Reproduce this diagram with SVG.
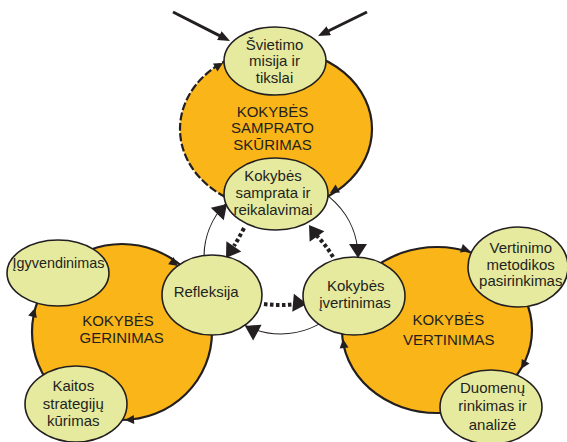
<svg xmlns="http://www.w3.org/2000/svg" xmlns:xlink="http://www.w3.org/1999/xlink" width="567" height="442" viewBox="0 0 567 442">
<style>
.big{fill:#FAB518;}
.bs{fill:none;stroke:#231F20;stroke-width:2.2;}
.el{fill:#E6EA9E;stroke:#231F20;stroke-width:1.6;}
.t{font-family:'Liberation Sans',Arial,sans-serif;font-size:15px;fill:#231F20;text-anchor:middle;}
.thin{fill:none;stroke:#231F20;stroke-width:1.1;}
.dot{fill:none;stroke:#231F20;stroke-width:4;stroke-dasharray:3.5 2.5;}
.ah{fill:#231F20;}
</style>
<defs>
<polygon id="sa" points="0,0 -9,-4.5 -9,4.5"/>
<polygon id="ba" points="0,0 -14,-9 -14,9"/>
<marker id="lm" viewBox="0 0 12 10" refX="4" refY="5" markerWidth="12" markerHeight="10" markerUnits="userSpaceOnUse" orient="auto">
<path d="M0,0 L12,5 L0,10 z" fill="#231F20"/>
</marker>
</defs>

<g id="kokybes-samprato-kurimas">
<ellipse class="big" cx="276" cy="129" rx="96" ry="80"/>
<path class="bs" d="M276,49 A96,80 0 0 1 276,209"/>
<path class="bs" stroke-dasharray="8 2.5" d="M276,209 A96,80 0 0 1 276,49"/>
<text class="t" x="272.5" y="116.5">KOKYBĖS</text>
<text class="t" x="272.5" y="133.2">SAMPRATO</text>
<text class="t" x="272.5" y="150">SKŪRIMAS</text>
</g>
<g id="kokybes-gerinimas">
<ellipse class="big" cx="122" cy="332" rx="90" ry="88"/>
<ellipse class="bs" cx="122" cy="332" rx="90" ry="88"/>
<text class="t" x="118" y="325.5">KOKYBĖS</text>
<text class="t" x="121.7" y="343">GERINIMAS</text>
</g>
<g id="kokybes-vertinimas">
<ellipse class="big" cx="437" cy="330" rx="95" ry="83"/>
<ellipse class="bs" cx="437" cy="330" rx="95" ry="83"/>
<text class="t" x="448.3" y="324.5">KOKYBĖS</text>
<text class="t" x="448.8" y="344.5">VERTINIMAS</text>
</g>

<g id="connectors">
<line x1="173" y1="12" x2="222.9" y2="37.4" stroke="#231F20" stroke-width="3" marker-end="url(#lm)"/>
<line x1="367" y1="12" x2="325.2" y2="32.5" stroke="#231F20" stroke-width="3" marker-end="url(#lm)"/>
<circle class="thin" cx="281" cy="257" r="77"/>
<use href="#ba" class="ah" transform="translate(227,204) rotate(-46)"/>
<use href="#ba" class="ah" transform="translate(358,258) rotate(90)"/>
<use href="#ba" class="ah" transform="translate(245,326) rotate(208)"/>
<path class="dot" d="M244,228 Q239,238 234,246"/>
<use href="#ba" class="ah" transform="translate(226,258) rotate(124)"/>
<path class="dot" d="M264,304 Q280,306 296,304"/>
<use href="#ba" class="ah" transform="translate(307,304) rotate(5)"/>
<path class="dot" d="M333,257 Q326,245 317,236"/>
<use href="#ba" class="ah" transform="translate(309,225) rotate(-125)"/>
<use href="#sa" class="ah" transform="translate(223,63) rotate(-30)"/>
<use href="#sa" class="ah" transform="translate(330,193) rotate(150)"/>
<use href="#sa" class="ah" transform="translate(178,266) rotate(37)"/>
<use href="#sa" class="ah" transform="translate(35,308) rotate(-74)"/>
<use href="#sa" class="ah" transform="translate(125,420) rotate(177)"/>
<use href="#sa" class="ah" transform="translate(470,251) rotate(18)"/>
<use href="#sa" class="ah" transform="translate(521,369) rotate(121)"/>
<use href="#sa" class="ah" transform="translate(343,339) rotate(-97)"/>
</g>

<g id="svietimo-misija">
<ellipse class="el" cx="275" cy="61" rx="51" ry="34"/>
<text class="t" x="274.5" y="49.5">Švietimo</text>
<text class="t" x="274.5" y="66.2">misija ir</text>
<text class="t" x="274.5" y="83">tikslai</text>
</g>
<g id="kokybes-samprata">
<ellipse class="el" cx="276" cy="194" rx="52" ry="36"/>
<text class="t" x="273" y="181.2">Kokybės</text>
<text class="t" x="273" y="198">samprata ir</text>
<text class="t" x="273" y="214.5">reikalavimai</text>
</g>
<g id="igyvendinimas">
<ellipse class="el" cx="58" cy="273" rx="51" ry="33"/>
<text class="t" x="58.5" y="268" textLength="92" lengthAdjust="spacingAndGlyphs">Įgyvendinimas</text>
</g>
<g id="refleksija">
<ellipse class="el" cx="212" cy="295" rx="50" ry="40"/>
<text class="t" x="206.2" y="296.5">Refleksija</text>
</g>
<g id="kaitos-strategiju">
<ellipse class="el" cx="76" cy="404" rx="51" ry="38"/>
<text class="t" x="73.3" y="391.2">Kaitos</text>
<text class="t" x="73.3" y="408.8">strategijų</text>
<text class="t" x="73.3" y="426.2">kūrimas</text>
</g>
<g id="kokybes-ivertinimas">
<ellipse class="el" cx="354" cy="296" rx="51" ry="39"/>
<text class="t" x="355.8" y="291.2">Kokybės</text>
<text class="t" x="355" y="307.8">įvertinimas</text>
</g>
<g id="vertinimo-metodikos">
<ellipse class="el" cx="518" cy="267" rx="50" ry="40"/>
<text class="t" x="520.8" y="252.8">Vertinimo</text>
<text class="t" x="520.6" y="269.5">metodikos</text>
<text class="t" x="520.8" y="286.2">pasirinkimas</text>
</g>
<g id="duomenu-rinkimas">
<ellipse class="el" cx="491" cy="407" rx="51" ry="37"/>
<text class="t" x="492.5" y="392.8">Duomenų</text>
<text class="t" x="492.5" y="411.2">rinkimas ir</text>
<text class="t" x="492.5" y="429.5">analizė</text>
</g>
</svg>
